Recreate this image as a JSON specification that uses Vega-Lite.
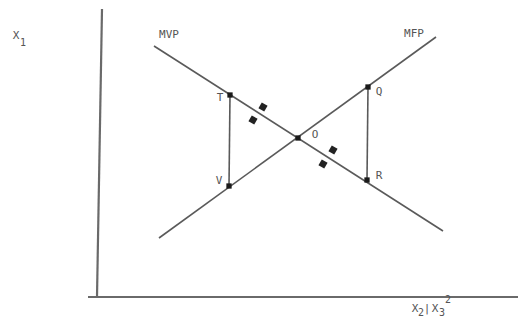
{
  "$schema": "https://vega.github.io/schema/vega-lite/v6.json",
  "width": 523,
  "height": 320,
  "padding": 0,
  "autosize": {"type": "none"},
  "background": "white",
  "config": {"view": {"stroke": null}},
  "datasets": {
    "segs": [
      {"name": "yaxis", "kind": "axis", "x": 5, "y": 288, "x2": 0, "y2": 0},
      {"name": "xaxis", "kind": "axis", "x": -9, "y": 0, "x2": 421, "y2": 0},
      {"name": "MVP", "kind": "curve", "x": 57, "y": 251, "x2": 346, "y2": 66},
      {"name": "MFP", "kind": "curve", "x": 62, "y": 59, "x2": 339, "y2": 260},
      {"name": "TV", "kind": "gap", "x": 133, "y": 202, "x2": 132, "y2": 111},
      {"name": "QR", "kind": "gap2", "x": 271, "y": 210, "x2": 270, "y2": 117}
    ],
    "dots": [
      {"label": "T", "x": 133, "y": 202},
      {"label": "V", "x": 132, "y": 111},
      {"label": "O", "x": 201, "y": 159},
      {"label": "Q", "x": 271, "y": 210},
      {"label": "R", "x": 270, "y": 117}
    ],
    "arrows": [
      {"x": 166, "y": 190},
      {"x": 156, "y": 177},
      {"x": 236, "y": 147},
      {"x": 226, "y": 133}
    ],
    "labels": [
      {"text": "X", "x": -81, "y": 261},
      {"text": "MVP", "x": 72, "y": 262},
      {"text": "MFP", "x": 317, "y": 263},
      {"text": "T", "x": 123, "y": 199},
      {"text": "V", "x": 122, "y": 116},
      {"text": "O", "x": 218, "y": 162},
      {"text": "Q", "x": 282, "y": 205},
      {"text": "R", "x": 282, "y": 121},
      {"text": "X", "x": 318, "y": -12},
      {"text": "|", "x": 330, "y": -12},
      {"text": "X", "x": 338, "y": -12}
    ],
    "subs": [
      {"text": "1", "x": -74, "y": 254},
      {"text": "2", "x": 324, "y": -16},
      {"text": "3", "x": 345, "y": -16},
      {"text": "2", "x": 351, "y": -3}
    ]
  },
  "layer": [
    {
      "data": {"name": "segs"},
      "transform": [{"filter": "datum.kind == 'axis'"}],
      "mark": {"type": "rule", "color": "#6a6a6a", "strokeWidth": 2.2},
      "encoding": {
        "x": {"field": "x", "type": "quantitative", "scale": {"domain": [-97, 426], "nice": false, "zero": false}, "axis": null},
        "y": {"field": "y", "type": "quantitative", "scale": {"domain": [-23, 297], "nice": false, "zero": false}, "axis": null},
        "x2": {"field": "x2"},
        "y2": {"field": "y2"}
      }
    },
    {
      "data": {"name": "segs"},
      "transform": [{"filter": "datum.kind != 'axis'"}],
      "mark": {"type": "rule", "color": "#5a5a5a", "strokeWidth": 1.6},
      "encoding": {
        "x": {"field": "x", "type": "quantitative", "scale": {"domain": [-97, 426], "nice": false, "zero": false}, "axis": null},
        "y": {"field": "y", "type": "quantitative", "scale": {"domain": [-23, 297], "nice": false, "zero": false}, "axis": null},
        "x2": {"field": "x2"},
        "y2": {"field": "y2"},
        "strokeWidth": {"condition": {"test": "datum.kind == 'gap'", "value": 2.2}, "value": 1.6}
      }
    },
    {
      "data": {"name": "dots"},
      "mark": {"type": "point", "filled": true, "color": "#1a1a1a", "size": 28, "opacity": 1, "shape": "square"},
      "encoding": {
        "x": {"field": "x", "type": "quantitative"},
        "y": {"field": "y", "type": "quantitative"}
      }
    },
    {
      "data": {"name": "arrows"},
      "mark": {"type": "point", "filled": true, "color": "#222222", "size": 45, "opacity": 1, "shape": "square", "angle": 30},
      "encoding": {
        "x": {"field": "x", "type": "quantitative"},
        "y": {"field": "y", "type": "quantitative"}
      }
    },
    {
      "data": {"name": "labels"},
      "mark": {"type": "text", "font": "DejaVu Sans Mono", "fontSize": 11, "color": "#555555", "align": "center", "baseline": "middle"},
      "encoding": {
        "x": {"field": "x", "type": "quantitative"},
        "y": {"field": "y", "type": "quantitative"},
        "text": {"field": "text"}
      }
    },
    {
      "data": {"name": "subs"},
      "mark": {"type": "text", "font": "DejaVu Sans Mono", "fontSize": 10, "color": "#555555", "align": "center", "baseline": "middle"},
      "encoding": {
        "x": {"field": "x", "type": "quantitative"},
        "y": {"field": "y", "type": "quantitative"},
        "text": {"field": "text"}
      }
    }
  ]
}
